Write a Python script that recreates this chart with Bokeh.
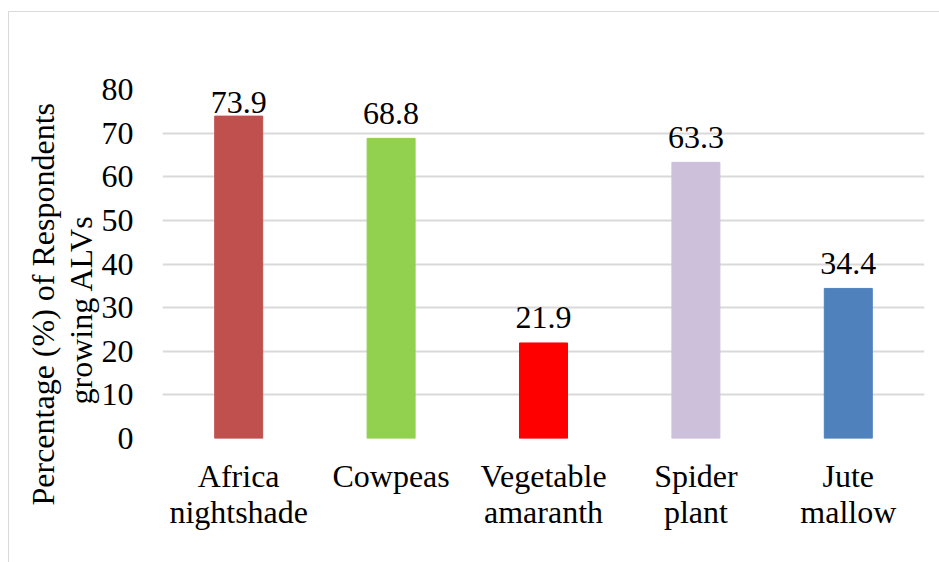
from bokeh.plotting import figure
from bokeh.models import Range1d, FixedTicker, Title, ColumnDataSource
from bokeh.core.properties import value
from bokeh.embed import file_html
from bokeh.resources import INLINE

categories = ["Africa\nnightshade", "Cowpeas", "Vegetable\namaranth", "Spider\nplant", "Jute\nmallow"]
percentages = [73.9, 68.8, 21.9, 63.3, 34.4]
bar_colors = ["#C0504D", "#92D050", "#FF0000", "#CCC0DA", "#4F81BD"]
y_ticks = [0, 10, 20, 30, 40, 50, 60, 70, 80]
y_title_lines = ["Percentage (%) of Respondents", "growing ALVs"]

FONT = "Liberation Serif"
FS = "32px"

n = len(categories)
positions = [i + 0.5 for i in range(n)]

frame_h = 349.0
yscale = frame_h / 80.0

p = figure(width=931, height=551, output_backend="svg", toolbar_location=None,
           x_range=Range1d(0, n), y_range=Range1d(0, 80),
           min_border_left=153, min_border_top=77, min_border_right=16, min_border_bottom=125,
           margin=(11, 0, 0, 8))
p.styles = {"border-top": "1px solid #d9d9d9", "border-left": "1px solid #d9d9d9"}
p.outline_line_color = None
p.background_fill_color = "white"
p.border_fill_color = "white"

# data labels: centred 25px above the bar, kept inside the plot area
label_y = [min(v + 25.0 / yscale, 80 - 12.5 / yscale) for v in percentages]
src = ColumnDataSource(dict(x=positions, top=percentages, color=bar_colors,
                            label=[f"{v:.1f}" for v in percentages], ly=label_y))
p.vbar(x="x", top="top", width=0.315, bottom=0, color="color", source=src)
p.text(x="x", y="ly", text="label", source=src,
       text_align="center", text_baseline="middle",
       text_font=value(FONT), text_font_size=FS, text_color="black")

# axes
p.xaxis.ticker = FixedTicker(ticks=positions)
p.xaxis.major_label_overrides = {pos: cat for pos, cat in zip(positions, categories)}
p.yaxis.ticker = FixedTicker(ticks=y_ticks)
for ax in (p.xaxis, p.yaxis):
    ax.axis_line_color = None
    ax.major_tick_line_color = None
    ax.minor_tick_line_color = None
    ax.major_tick_out = 0
    ax.major_tick_in = 0
    ax.major_label_text_font = FONT
    ax.major_label_text_font_size = FS
    ax.major_label_text_color = "black"
p.xaxis.major_label_text_line_height = 1.0
p.yaxis.major_label_standoff = 29
p.xaxis.major_label_standoff = 19

p.xgrid.grid_line_color = None
p.ygrid.ticker = FixedTicker(ticks=y_ticks)
p.ygrid.grid_line_color = "#d9d9d9"
p.ygrid.grid_line_width = 2

# two-line rotated y title, both lines centred ~41px below the frame centre
# (inner line added first, outer line second)
for line, off in zip(reversed(y_title_lines), [34, -67]):
    t = Title(text=line, align="left", offset=off, standoff=0,
              text_font=FONT, text_font_size=FS, text_font_style="normal",
              text_color="black", text_line_height=1.0)
    p.add_layout(t, "left")

open("out.html", "w").write(file_html(p, INLINE))
